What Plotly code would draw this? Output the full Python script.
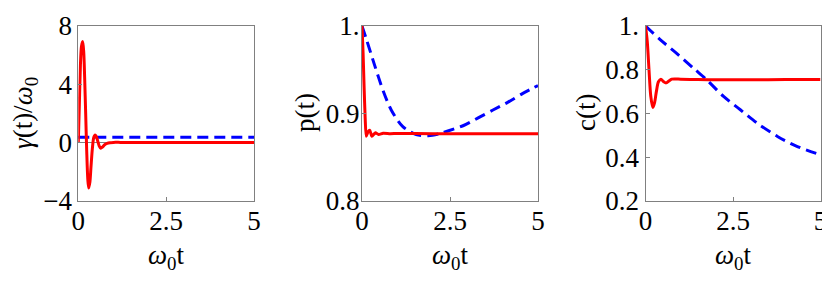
import plotly.graph_objects as go

# ---------------- data ----------------
# panel 1: gamma(t)/omega0
t_gamma = [0, 0.03, 0.06, 0.09, 0.125, 0.155, 0.18, 0.21, 0.24, 0.27, 0.295, 0.33, 0.36, 0.40,
           0.44, 0.48, 0.52, 0.56, 0.60, 0.64, 0.69, 0.75, 0.82, 0.9, 1.0, 1.2, 1.5, 2.0, 3.0, 4.0, 5.0]
gamma_red = [0, 2.6, 5.3, 6.6, 6.93, 6.2, 4.5, 2.0, -0.6, -2.5, -3.1, -2.7, -1.7, -0.4,
             0.35, 0.53, 0.38, 0.05, -0.25, -0.38, -0.3, -0.14, -0.05, 0.0, 0.02, 0.02, 0.02, 0.02, 0.02, 0.02, 0.02]
t_gamma_const = [0, 5]
gamma_blue = [0.37, 0.37]

# panel 2: p(t)
t_p_red = [0, 0.03, 0.06, 0.09, 0.12, 0.17, 0.22, 0.28, 0.38, 0.47, 0.6, 0.8, 1.0, 2.0, 3.0, 4.0, 5.0]
p_red = [1.0, 0.97, 0.93, 0.895, 0.874, 0.879, 0.881, 0.874, 0.878, 0.876, 0.8775, 0.877, 0.8772,
         0.877, 0.877, 0.877, 0.877]
t_p_blue = [0, 0.12, 0.36, 0.60, 0.83, 1.16, 1.54, 1.88, 2.21, 2.44, 2.87, 3.30, 3.72, 4.15, 4.57, 5.0]
p_blue = [1.0, 0.9855, 0.955, 0.926, 0.904, 0.885, 0.876, 0.8747, 0.877, 0.880, 0.886, 0.895,
          0.904, 0.913, 0.923, 0.932]

# panel 3: c(t)
t_c_red = [0, 0.05, 0.10, 0.15, 0.21, 0.26, 0.31, 0.37, 0.44, 0.52, 0.59, 0.66, 0.75, 0.85,
           1.0, 1.5, 2.0, 3.0, 4.0, 5.0]
c_red = [1.0, 0.93, 0.80, 0.68, 0.628, 0.65, 0.70, 0.745, 0.757, 0.745, 0.740, 0.748, 0.757,
         0.758, 0.757, 0.755, 0.754, 0.754, 0.755, 0.755]
t_c_blue = [0, 0.41, 0.89, 1.37, 1.75, 2.23, 2.71, 3.19, 3.77, 4.34, 5.0]
c_blue = [1.0, 0.939, 0.875, 0.807, 0.754, 0.678, 0.617, 0.556, 0.495, 0.449, 0.411]

x_ticks = [0, 2.5, 5]
x_ticktext = ["0", "2.5", "5"]
y1_ticks = [-4, 0, 4, 8]
y1_ticktext = ["\u22124", "0", "4", "8"]
y2_ticks = [0.8, 0.9, 1.0]
y2_ticktext = ["0.8", "0.9", "1."]
y3_ticks = [0.2, 0.4, 0.6, 0.8, 1.0]
y3_ticktext = ["0.2", "0.4", "0.6", "0.8", "1."]

y_titles = ["<i>\u03b3</i>(t)/<i>\u03c9</i><sub>0</sub>", "p(t)", "c(t)"]
x_title = "<i>\u03c9</i><sub>0</sub>t"

# ---------------- figure ----------------
OFF = 8  # page body margin
W, H = 830 - OFF, 285 - OFF
FONT = "Liberation Serif"
FS = 27
RED = "#ff0000"
BLUE = "#0000ff"
FRAME = "#808080"


def fx(px):
    return (px - OFF) / W


def fy(py):
    return (H - (py - OFF)) / H


fig = go.Figure()

panels = [
    dict(left=78.3, right=254.0),
    dict(left=362.0, right=538.0),
    dict(left=645.5, right=820.5),
]
top_px, bot_px = 26.0, 201.0

red_lw, blue_lw = 3.0, 3.0
dash = "11px,6px"

fig.add_trace(go.Scatter(x=t_gamma_const, y=gamma_blue, mode="lines",
                         line=dict(color=BLUE, width=blue_lw, dash=dash), xaxis="x", yaxis="y"))
fig.add_trace(go.Scatter(x=t_gamma, y=gamma_red, mode="lines",
                         line=dict(color=RED, width=red_lw, shape="spline", smoothing=0.8), xaxis="x", yaxis="y"))

fig.add_trace(go.Scatter(x=t_p_blue, y=p_blue, mode="lines",
                         line=dict(color=BLUE, width=blue_lw, dash=dash, shape="spline", smoothing=0.8), xaxis="x2", yaxis="y2"))
fig.add_trace(go.Scatter(x=t_p_red, y=p_red, mode="lines",
                         line=dict(color=RED, width=red_lw, shape="spline", smoothing=0.6), xaxis="x2", yaxis="y2"))

fig.add_trace(go.Scatter(x=t_c_blue, y=c_blue, mode="lines",
                         line=dict(color=BLUE, width=blue_lw, dash=dash, shape="spline", smoothing=0.8), xaxis="x3", yaxis="y3"))
fig.add_trace(go.Scatter(x=t_c_red, y=c_red, mode="lines",
                         line=dict(color=RED, width=red_lw, shape="spline", smoothing=0.8), xaxis="x3", yaxis="y3"))

ydom = [fy(bot_px), fy(top_px)]

common_axis = dict(showgrid=False, showline=True, linecolor=FRAME, linewidth=1, mirror=True,
                   ticks="inside", ticklen=4, tickcolor=FRAME, tickwidth=1,
                   tickfont=dict(family=FONT, size=FS, color="black"), automargin=False)

layout = dict(width=W, height=H, margin=dict(l=0, r=0, t=0, b=0),
              paper_bgcolor="white", plot_bgcolor="white", showlegend=False,
              font=dict(family=FONT, size=FS, color="black"))

yinfo = [
    ([-4, 8], y1_ticks, y1_ticktext, 0),
    ([0.8, 1.0], y2_ticks, y2_ticktext, -4),
    ([0.2, 1.0], y3_ticks, y3_ticktext, 0),
]

for i, p in enumerate(panels):
    suffix = "" if i == 0 else str(i + 1)
    xd = [fx(p["left"]), fx(p["right"])]
    layout["xaxis" + suffix] = dict(common_axis, domain=xd, range=[0, 5], tickvals=x_ticks,
                                    ticktext=x_ticktext, anchor="y" + suffix, zeroline=False,
                                    ticklabelstandoff=-4)
    rng, tv, tt, so = yinfo[i]
    layout["yaxis" + suffix] = dict(common_axis, domain=ydom, range=rng, tickvals=tv, ticktext=tt,
                                    anchor="x" + suffix, zeroline=(i == 0), zerolinecolor=FRAME,
                                    zerolinewidth=1, ticklabelstandoff=so)

fig.update_layout(**layout)

# axis titles as annotations
ytitle_x = [25, 305, 586]
for i, p in enumerate(panels):
    cx = (p["left"] + p["right"]) / 2
    fig.add_annotation(text=x_title, x=fx(cx), y=fy(257), xref="paper", yref="paper",
                       showarrow=False, xanchor="center", yanchor="middle",
                       font=dict(family=FONT, size=FS, color="black"))
    fig.add_annotation(text=y_titles[i], x=fx(ytitle_x[i]), y=fy(113), xref="paper", yref="paper",
                       showarrow=False, xanchor="center", yanchor="middle", textangle=-90,
                       font=dict(family=FONT, size=FS, color="black"))

fig.write_html("out.html")
